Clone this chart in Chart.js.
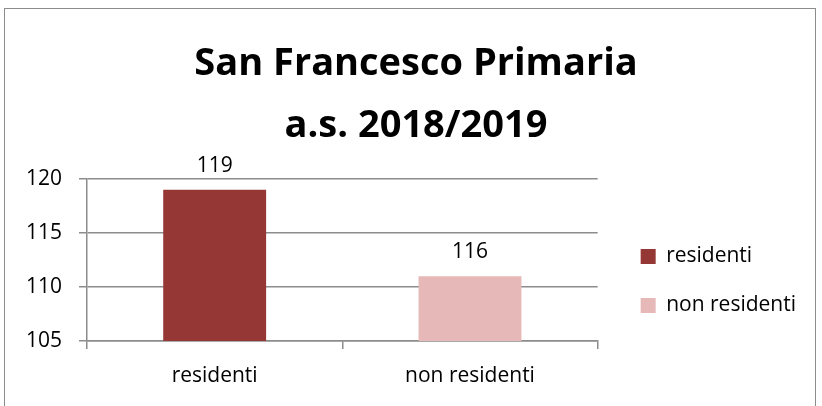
<!DOCTYPE html>
<html>
<head>
<meta charset="utf-8">
<script src="https://cdn.jsdelivr.net/npm/chart.js@4"></script>
<style>
  html, body { margin: 0; padding: 0; background: #fff; }
  #wrap { position: relative; width: 822px; height: 406px; }
  #frame {
    position: absolute; left: 4px; top: 8px; width: 810px; height: 420px;
    border: 1.5px solid #8c8c8c; pointer-events: none;
  }
  canvas { position: absolute; left: 0; top: 0; }
</style>
</head>
<body>
<div id="wrap">
  <canvas id="chart" width="822" height="406"></canvas>
  <div id="frame"></div>
</div>
<script>
const categories = ["residenti", "non residenti"];
const barValues = [119, 111];      // bar heights as drawn
const dataLabels = ["119", "116"]; // labels printed above the bars
const barColors = ["#953735", "#E6B9B8"];
const yTicks = [105, 110, 115, 120];

const FONT = "'Open Sans', Lato, sans-serif";

// prints the value labels above each bar
const barLabels = {
  id: "barLabels",
  afterDatasetsDraw(chart) {
    const ctx = chart.ctx;
    const meta = chart.getDatasetMeta(0);
    ctx.save();
    ctx.font = "21px " + FONT;
    ctx.fillStyle = "#000";
    ctx.textAlign = "center";
    ctx.textBaseline = "middle";
    meta.data.forEach((bar, i) => {
      ctx.fillText(dataLabels[i], bar.x, bar.y - 24);
    });
    ctx.restore();
  },
};

const ctx = document.getElementById("chart").getContext("2d");
const chart = new Chart(ctx, {
  type: "bar",
  data: {
    labels: categories,
    datasets: [
      {
        label: "alunni",
        data: barValues,
        backgroundColor: barColors,
        borderWidth: 0,
        barPercentage: 0.403,
        categoryPercentage: 1,
      },
    ],
  },
  options: {
    responsive: false,
    animation: false,
    devicePixelRatio: 1,
    layout: { padding: { left: 26, right: 16, top: 0, bottom: 0 } },
    scales: {
      x: {
        grid: {
          display: true,
          drawOnChartArea: false,
          drawTicks: true,
          tickLength: 8,
          color: "#8c8c8c",
          lineWidth: 1.5,
          offset: true,
        },
        border: { color: "#8c8c8c", width: 1.5 },
        ticks: { color: "#000", font: { family: FONT, size: 21 }, padding: 14 },
        afterFit: (scale) => { scale.height = 65; },
      },
      y: {
        min: 105,
        max: 120,
        afterBuildTicks: (scale) => { scale.ticks = yTicks.map((v) => ({ value: v })); },
        grid: { color: "#8c8c8c", lineWidth: 1.5, tickLength: 8 },
        border: { color: "#8c8c8c", width: 1.5 },
        ticks: { color: "#000", font: { family: FONT, size: 21 }, padding: 17 },
        afterFit: (scale) => { scale.width = 61; },
      },
      // empty gap between plot area and legend
      spacer: {
        type: "linear",
        position: "right",
        display: true,
        grid: { display: false },
        border: { display: false },
        ticks: { display: false },
        afterFit: (scale) => { scale.width = 15; },
      },
    },
    plugins: {
      title: {
        display: true,
        text: ["San Francesco Primaria", "a.s. 2018/2019"],
        color: "#000",
        font: { family: FONT, size: 38, weight: "bold", lineHeight: 1.632 },
        padding: { top: 33, bottom: 22 },
      },
      legend: {
        position: "right",
        align: "start",
        maxWidth: 260,
        title: {
          display: true,
          text: " ",
          font: { size: 10, lineHeight: 1.2 },
          padding: { top: 206, bottom: 0 },
        },
        labels: {
          color: "#000",
          font: { family: FONT, size: 21 },
          boxWidth: 15,
          boxHeight: 15,
          padding: 28,
          generateLabels: () =>
            categories.map((c, i) => ({
              text: c,
              fillStyle: barColors[i],
              strokeStyle: barColors[i],
              fontColor: "#000",
              lineWidth: 0,
              index: i,
            })),
        },
      },
      tooltip: { enabled: false },
    },
  },
  plugins: [barLabels],
});
</script>
</body>
</html>
